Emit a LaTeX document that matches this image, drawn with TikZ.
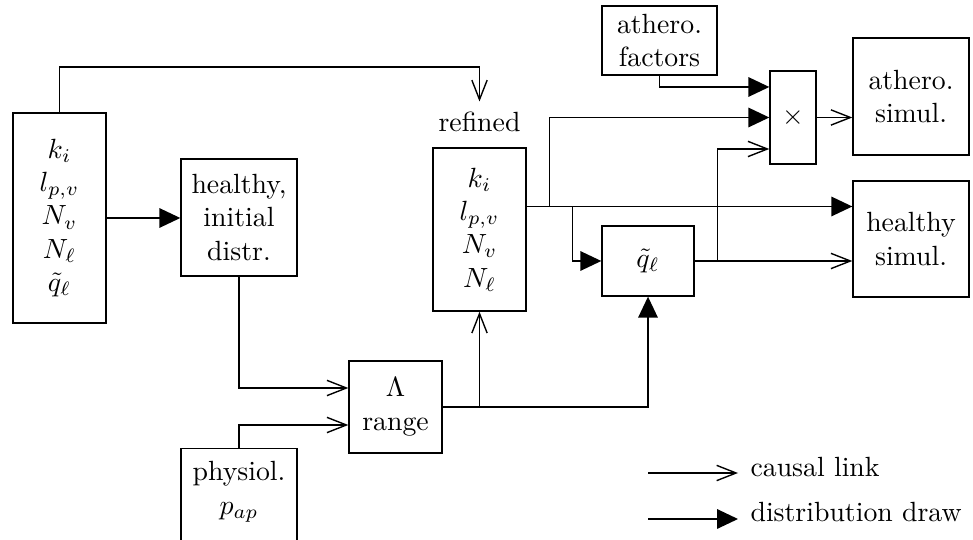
\documentclass[tikz,border=0pt]{standalone}
\usetikzlibrary{arrows.meta,calc}
\begin{document}
\begin{tikzpicture}[x=0.36pt,y=-0.36pt,
  box/.style args={#1/#2}{draw, line width=0.5pt, minimum width={#1*0.36pt}, minimum height={#2*0.36pt}, inner sep=0pt, align=center},
  causal/.style={-{Straight Barb[length=7pt,width=5.5pt]}, line width=0.5pt},
  dist/.style={-{Triangle[length=7.5pt,width=7pt]}, line width=0.5pt},
  legtext/.style={anchor=base west, inner sep=0pt}]
\useasboundingbox (0,0) rectangle (973,540);
\clip (0,0) rectangle (973,540);
% nodes
\node[box={93/210}] (L) at (59.5,218) {$k_i$\\$l_{p,v}$\\$N_v$\\$N_\ell$\\$\tilde q_\ell$};
\node[box={116/117}] (H) at (239,217.5) {healthy,\\initial\\distr.};
\node[align=center, inner sep=3.6pt] (RL) at (479.5,122) {refined};
\node[box={93/163}] (R) at (479.5,229.5) {$k_i$\\$l_{p,v}$\\$N_v$\\$N_\ell$};
\node[box={93/92}] (LR) at (395.5,407) {$\Lambda$\\range};
\node[box={116/120}, anchor=north] (P) at (239,448) {};
\node[align=center] (PT) at (239,492) {physiol.\\$p_{ap}$};
\node[box={115/69}] (AF) at (659.5,40.5) {athero.\\factors};
\node[box={46/93}] (X) at (793,117.5) {$\times$};
\node[box={116/117}] (AS) at (911,96.5) {athero.\\simul.};
\node[box={116/116}] (HS) at (911,239) {healthy\\simul.};
\node[box={92/70}] (Q) at (648,261) {$\tilde q_\ell$};
% connectors
\coordinate (t1) at (0,67);
\draw[causal] (L.north) -- (L.north |- t1) -| (RL.north);
\draw[dist] (L.east) -- (L.east -| H.west);
\draw[causal] (H.south) |- ($(LR.west)+(0,-19)$);
\draw[causal] (P.north) |- ($(LR.west)+(0,18)$);
\draw[causal] (LR.east) -| (R.south);
\draw[dist] (LR.east) -| (Q.south);
\coordinate (r0) at ($(R.east)+(0,-23)$);
\coordinate (b1) at ($(r0)+(23,0)$);
\coordinate (b2) at ($(r0)+(46,0)$);
\draw[dist] (r0) -- (r0 -| HS.west);
\draw[dist] (b1) |- (X.west);
\draw[dist] (b2) |- (Q.west);
\draw[causal] (Q.east) -- ($(HS.west)+(0,22)$);
\coordinate (b3) at ($(Q.east)+(23,0)$);
\draw[causal] (b3) |- ($(X.west)+(0,31.5)$);
\draw[dist] (AF.south) |- ($(X.west)+(0,-30.5)$);
\draw[causal] (X.east) -- (X.east -| AS.west);
% legend
\node[legtext] (lc) at (750,477) {causal link};
\node[legtext] (ld) at (750,522) {distribution draw};
\coordinate (lc1) at ($(lc.base west)+(-102,-4)$);
\coordinate (lc2) at ($(lc.base west)+(-12,-4)$);
\coordinate (ld1) at ($(ld.base west)+(-102,-3)$);
\coordinate (ld2) at ($(ld.base west)+(-12,-3)$);
\draw[causal] (lc1) -- (lc2);
\draw[dist] (ld1) -- (ld2);
\end{tikzpicture}
\end{document}
